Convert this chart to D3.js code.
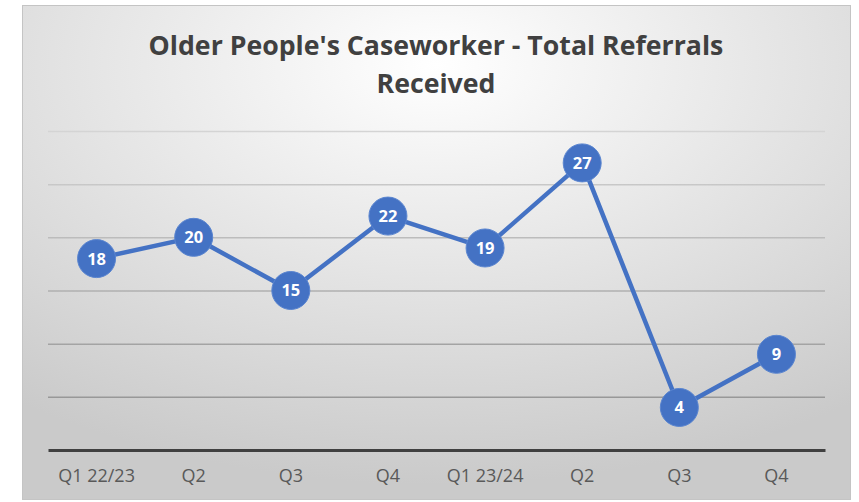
<!DOCTYPE html>
<html>
<head>
<meta charset="utf-8">
<script src="https://cdn.jsdelivr.net/npm/d3@7"></script>
<style>
  body { margin: 0; background: #fff; }
</style>
</head>
<body>
<div id="chart"></div>
<script>
const quarters = ["Q1 22/23", "Q2", "Q3", "Q4", "Q1 23/24", "Q2", "Q3", "Q4"];
const referrals = [18, 20, 15, 22, 19, 27, 4, 9];
const yTicks = [0, 5, 10, 15, 20, 25, 30];
const titleLines = ["Older People's Caseworker - Total Referrals", "Received"];

const W = 859, H = 502;
const plot = { left: 48, right: 825, top: 131, bottom: 450 };
const blue = "#4472C4";

const svg = d3.select("#chart")
    .append("svg")
    .attr("width", W)
    .attr("height", H);

const defs = svg.append("defs");
const bg = defs.append("radialGradient")
    .attr("id", "bg")
    .attr("cx", "50%").attr("cy", "12%")
    .attr("r", "85%");
bg.append("stop").attr("offset", "0%").attr("stop-color", "#ffffff");
bg.append("stop").attr("offset", "100%").attr("stop-color", "#cacaca");

const gridGrad = defs.append("linearGradient")
    .attr("id", "gridGrad")
    .attr("gradientUnits", "userSpaceOnUse")
    .attr("x1", 0).attr("y1", plot.top)
    .attr("x2", 0).attr("y2", plot.bottom);
gridGrad.append("stop").attr("offset", "0%").attr("stop-color", "#d4d4d4");
gridGrad.append("stop").attr("offset", "100%").attr("stop-color", "#8c8c8c");

// chart area
svg.append("rect")
    .attr("x", 22.5).attr("y", 5.5)
    .attr("width", 828).attr("height", 494)
    .attr("fill", "url(#bg)")
    .attr("stroke", "#c4c4c4")
    .attr("stroke-width", 1);

const x = d3.scaleBand()
    .domain(quarters.map((d, i) => i))
    .range([plot.left, plot.right]);

const y = d3.scaleLinear()
    .domain([0, 30])
    .range([plot.bottom, plot.top]);

// gridlines
svg.append("g")
    .selectAll("line")
    .data(yTicks.filter(d => d > 0))
    .enter()
    .append("line")
    .attr("x1", plot.left)
    .attr("x2", plot.right)
    .attr("y1", d => y(d) + 0.5)
    .attr("y2", d => y(d) + 0.5)
    .attr("stroke", "url(#gridGrad)")
    .attr("stroke-width", 1.5);

// x axis
const xAxis = svg.append("g")
    .attr("class", "x-axis")
    .attr("transform", `translate(0,${plot.bottom})`)
    .call(d3.axisBottom(x).tickSize(0).tickPadding(19).tickFormat(i => quarters[i]));

xAxis.select(".domain")
    .attr("stroke", "#404040")
    .attr("stroke-width", 3);

xAxis.selectAll("text")
    .attr("fill", "#595959")
    .style("font-family", "'Open Sans', sans-serif")
    .style("font-size", "18px");

// line
const line = d3.line()
    .x((d, i) => x(i) + x.bandwidth() / 2)
    .y(d => y(d));

svg.append("path")
    .datum(referrals)
    .attr("d", line)
    .attr("fill", "none")
    .attr("stroke", blue)
    .attr("stroke-width", 4.5)
    .attr("stroke-linejoin", "round");

const points = svg.append("g")
    .selectAll("g")
    .data(referrals)
    .enter()
    .append("g")
    .attr("transform", (d, i) => `translate(${x(i) + x.bandwidth() / 2},${y(d)})`);

points.append("circle")
    .attr("r", 19)
    .attr("fill", blue)
    .attr("stroke", "#5a85d0")
    .attr("stroke-width", 1);

points.append("text")
    .attr("text-anchor", "middle")
    .attr("dy", "0.36em")
    .attr("fill", "#fff")
    .style("font-family", "'Open Sans', sans-serif")
    .style("font-weight", "bold")
    .style("font-size", "16.5px")
    .text(d => d);

// title
const title = svg.append("text")
    .attr("text-anchor", "middle")
    .attr("fill", "#404040")
    .style("font-family", "'Open Sans', sans-serif")
    .style("font-weight", "bold")
    .style("font-size", "26.7px");

title.selectAll("tspan")
    .data(titleLines)
    .enter()
    .append("tspan")
    .attr("x", 436)
    .attr("y", (d, i) => 55 + i * 38)
    .text(d => d);
</script>
</body>
</html>
